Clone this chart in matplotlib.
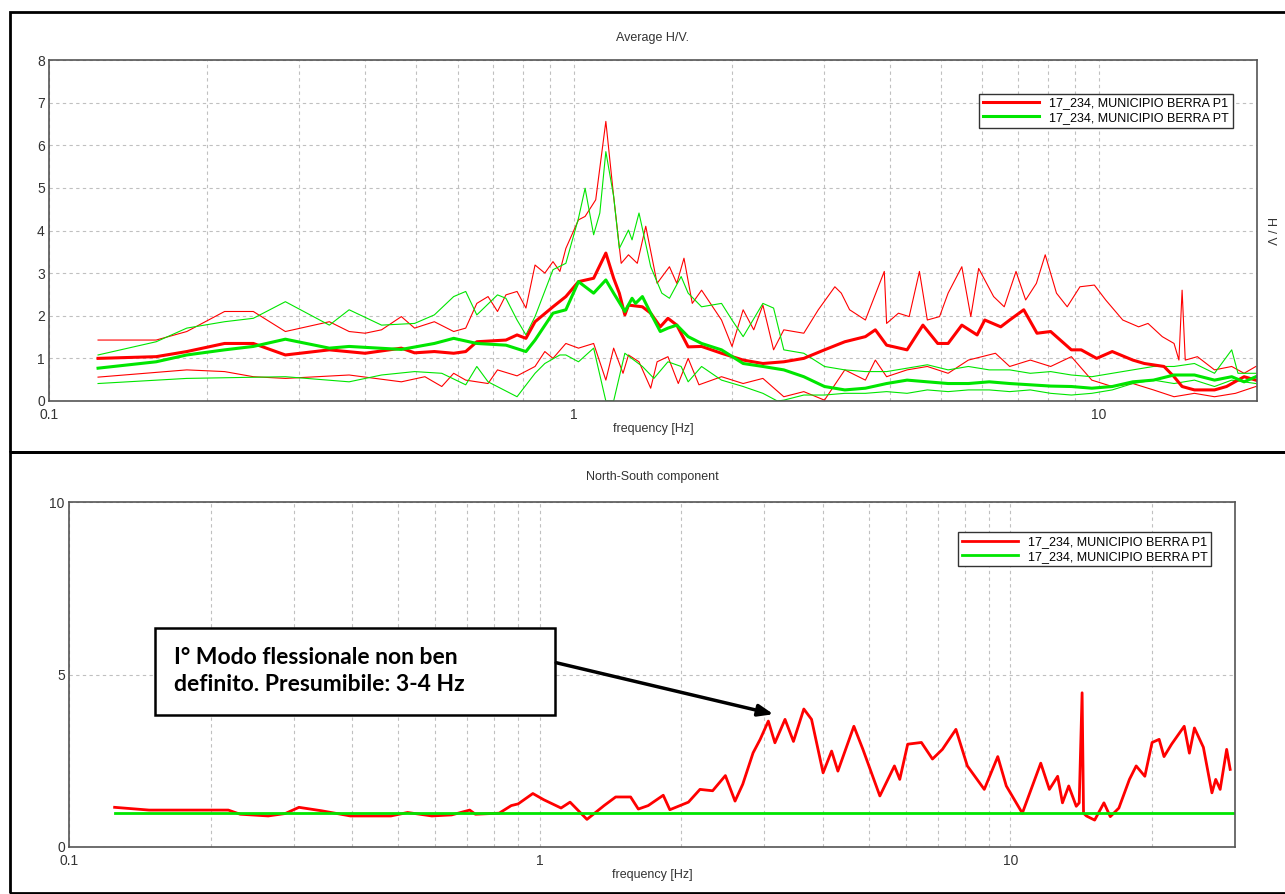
import matplotlib.pyplot as plt
import matplotlib.patches as mpatches
from matplotlib.ticker import FixedLocator, LogLocator, NullFormatter
import numpy as np

RED = '#ff0000'
GREEN = '#00e600'
LEG = ['17_234, MUNICIPIO BERRA P1', '17_234, MUNICIPIO BERRA PT']

# ---- top panel: average H/V (mean and +/- std curves) ----
red_mean_f = [0.124, 0.160, 0.183, 0.216, 0.245, 0.282, 0.342, 0.40, 0.469, 0.497, 0.542, 0.59, 0.622, 0.653,
              0.742, 0.779, 0.81, 0.843, 0.912, 0.965, 1.02, 1.09, 1.15, 1.19, 1.22, 1.25, 1.27, 1.35, 1.40, 1.46,
              1.51, 1.57, 1.65, 1.75, 1.91, 2.10, 2.29, 2.51, 2.74, 3.0, 3.28, 3.59, 3.75, 3.94, 4.31, 4.62,
              4.93, 5.16, 5.48, 5.86, 6.06, 6.5, 6.76, 7.19, 7.62, 8.09, 8.86, 9.25, 9.9, 10.6, 11.6, 12.2, 13.3,
              13.9, 14.4, 15.2, 16.6, 17.5, 18.9, 19.9]
red_mean_v = [1.0, 1.04, 1.16, 1.35, 1.35, 1.08, 1.2, 1.12, 1.24, 1.13, 1.16, 1.12, 1.16, 1.39,
              1.43, 1.55, 1.47, 1.86, 2.21, 2.45, 2.8, 2.88, 3.47, 2.88, 2.53, 2.02, 2.25, 2.21, 2.06, 1.74,
              1.94, 1.78, 1.27, 1.28, 1.12, 0.96, 0.88, 0.92, 1.0, 1.2, 1.39, 1.51, 1.67, 1.31, 1.2, 1.78,
              1.35, 1.35, 1.78, 1.55, 1.9, 1.74, 1.9, 2.14, 1.59, 1.63, 1.2, 1.2, 1.0, 1.16, 0.96, 0.88, 0.81,
              0.57, 0.34, 0.26, 0.26, 0.34, 0.57, 0.49]

green_mean_f = [0.124, 0.160, 0.183, 0.216, 0.245, 0.282, 0.342, 0.373, 0.469, 0.542, 0.59, 0.653, 0.742, 0.81,
                0.843, 0.912, 0.965, 1.02, 1.09, 1.15, 1.19, 1.25, 1.29, 1.31, 1.35, 1.40, 1.46, 1.51, 1.57, 1.65,
                1.75, 1.91, 2.10, 2.29, 2.51, 2.74, 3.0, 3.28, 3.59, 3.94, 4.31, 4.71, 5.16, 5.64, 6.18, 6.76, 7.40,
                8.09, 8.86, 9.69, 10.6, 11.6, 12.7, 13.9, 15.2, 16.6, 17.9, 18.9, 19.9]
green_mean_v = [0.77, 0.92, 1.08, 1.2, 1.28, 1.45, 1.24, 1.28, 1.21, 1.35, 1.47, 1.35, 1.31, 1.16,
                1.43, 2.06, 2.14, 2.8, 2.53, 2.84, 2.53, 2.1, 2.41, 2.29, 2.45, 2.06, 1.63, 1.71, 1.78, 1.51,
                1.35, 1.2, 0.88, 0.81, 0.73, 0.57, 0.34, 0.26, 0.3, 0.41, 0.49, 0.45, 0.41, 0.41, 0.45, 0.41, 0.38,
                0.35, 0.34, 0.3, 0.34, 0.45, 0.49, 0.61, 0.61, 0.49, 0.57, 0.45, 0.57]

red_up_f = [0.124, 0.160, 0.183, 0.216, 0.245, 0.282, 0.342, 0.373, 0.40, 0.43, 0.469, 0.497, 0.542, 0.59, 0.622,
            0.653, 0.686, 0.715, 0.742, 0.779, 0.81, 0.843, 0.88, 0.912, 0.94, 0.965, 1.02, 1.05, 1.10, 1.15,
            1.19, 1.23, 1.27, 1.32, 1.37, 1.44, 1.52, 1.57, 1.62, 1.68, 1.75, 1.91, 2.0, 2.10, 2.2, 2.29, 2.4,
            2.51, 2.74, 2.92, 3.14, 3.23, 3.35, 3.59, 3.9, 3.94, 4.15, 4.35, 4.55, 4.71, 4.97, 5.16, 5.48, 5.7,
            5.9, 6.3, 6.6, 6.95, 7.25, 7.6, 7.9, 8.3, 8.7, 9.2, 9.8, 10.3,
            11.1, 11.9, 12.4, 13.2, 13.9, 14.2, 14.4, 14.6, 15.4, 16.6, 17.9, 18.9, 19.9]
red_up_v = [1.43, 1.43, 1.63, 2.1, 2.1, 1.63, 1.86, 1.63, 1.59, 1.67, 1.98, 1.71, 1.86, 1.63, 1.71,
            2.29, 2.45, 2.1, 2.49, 2.57, 2.18, 3.19, 3.0, 3.27, 3.04, 3.58, 4.25, 4.33, 4.72, 6.56,
            4.8, 3.23, 3.43, 3.23, 4.1, 2.76, 3.15, 2.76, 3.35, 2.29, 2.6, 1.9, 1.28, 2.14, 1.67, 2.25, 1.2,
            1.67, 1.59, 2.14, 2.68, 2.53, 2.14, 1.9, 3.04, 1.82, 2.06, 1.98, 3.04, 1.9, 1.98, 2.53, 3.15, 1.98,
            3.11, 2.45, 2.21, 3.04, 2.37, 2.76, 3.43, 2.53, 2.21, 2.68, 2.72, 2.37,
            1.9, 1.74, 1.82, 1.51, 1.35, 0.96, 2.6, 0.96, 1.04, 0.73, 0.81, 0.65, 0.81]

green_up_f = [0.124, 0.160, 0.183, 0.216, 0.245, 0.282, 0.342, 0.373, 0.43, 0.497, 0.542, 0.59, 0.622, 0.653,
              0.715, 0.742, 0.779, 0.81, 0.843, 0.912, 0.965, 1.02, 1.05, 1.09, 1.12, 1.15, 1.19, 1.22, 1.27,
              1.29, 1.33, 1.40, 1.47, 1.52, 1.60, 1.65, 1.75, 1.91, 2.0, 2.10, 2.29, 2.4, 2.51, 2.74, 3.0, 3.28,
              3.59, 3.94, 4.31, 4.71, 5.16, 5.64, 6.18, 6.76, 7.40, 8.09, 8.86, 9.69, 10.6, 11.6, 12.7, 13.9,
              15.2, 16.6, 17.9, 18.4, 19.9]
green_up_v = [1.08, 1.39, 1.71, 1.86, 1.94, 2.33, 1.78, 2.14, 1.78, 1.82, 2.02, 2.45, 2.57, 2.02,
              2.49, 2.41, 1.9, 1.55, 1.98, 3.08, 3.23, 4.29, 4.99, 3.9, 4.41, 5.85, 4.8, 3.58, 4.01,
              3.78, 4.41, 3.15, 2.53, 2.41, 2.92, 2.53, 2.21, 2.29, 1.9, 1.51, 2.29, 2.18, 1.2, 1.12, 0.81, 0.73,
              0.69, 0.69, 0.77, 0.85, 0.73, 0.81, 0.73, 0.73, 0.65, 0.69, 0.61, 0.57, 0.65, 0.73, 0.81, 0.81,
              0.88, 0.65, 1.2, 0.65, 0.65]

red_lo_f = [0.124, 0.183, 0.216, 0.245, 0.282, 0.373, 0.469, 0.52, 0.56, 0.59, 0.622, 0.686, 0.715, 0.779,
            0.843, 0.88, 0.912, 0.965, 1.02, 1.09, 1.15, 1.19, 1.24, 1.27, 1.33, 1.40, 1.44, 1.51, 1.58, 1.65,
            1.73, 1.91, 2.10, 2.29, 2.51, 2.74, 3.0, 3.28, 3.59, 3.75, 3.94, 4.31, 4.71, 5.16, 5.64, 6.35,
            6.76, 7.40, 8.09, 8.86, 9.69, 10.6, 11.6, 12.7, 13.9, 15.2, 16.6, 18.2, 19.9]
red_lo_v = [0.56, 0.73, 0.69, 0.57, 0.53, 0.61, 0.45, 0.57, 0.34, 0.65, 0.49, 0.41, 0.73, 0.59,
            0.81, 1.16, 1.0, 1.35, 1.24, 1.35, 0.49, 1.24, 0.65, 1.08, 0.92, 0.3, 0.92, 1.04, 0.41, 1.0,
            0.38, 0.57, 0.41, 0.53, 0.1, 0.22, 0.02, 0.73, 0.49, 0.96, 0.57, 0.73, 0.81, 0.65, 0.96, 1.12,
            0.81, 0.96, 0.81, 1.04, 0.49, 0.34, 0.41, 0.26, 0.1, 0.18, 0.1, 0.18, 0.34]

green_lo_f = [0.124, 0.183, 0.282, 0.373, 0.43, 0.497, 0.56, 0.622, 0.653, 0.686, 0.779, 0.843, 0.88, 0.94,
              0.965, 1.02, 1.09, 1.15, 1.19, 1.25, 1.35, 1.42, 1.51, 1.60, 1.65, 1.75, 1.91, 2.10, 2.29,
              2.44, 2.51, 2.74, 3.0, 3.28, 3.59, 3.94, 4.31, 4.71, 5.16, 5.64, 6.18, 6.76, 7.40, 8.09, 8.86,
              9.69, 10.6, 11.6, 12.7, 13.9, 15.2, 16.6, 17.9, 19.9]
green_lo_v = [0.41, 0.53, 0.57, 0.45, 0.61, 0.69, 0.65, 0.38, 0.81, 0.45, 0.1, 0.65, 0.88, 1.08,
              1.08, 0.92, 1.24, 0.0, 0.0, 1.12, 0.81, 0.53, 0.92, 0.81, 0.45, 0.81, 0.49, 0.34, 0.18,
              0.0, 0.02, 0.14, 0.14, 0.18, 0.18, 0.22, 0.18, 0.26, 0.22, 0.26, 0.26, 0.22, 0.26, 0.18, 0.14,
              0.18, 0.26, 0.41, 0.49, 0.41, 0.49, 0.34, 0.49, 0.41]

# ---- bottom panel: North-South component ----
ns_red_f = [0.125, 0.148, 0.19, 0.218, 0.231, 0.265, 0.288, 0.308, 0.344, 0.396, 0.483, 0.524, 0.59, 0.65,
            0.71, 0.73, 0.82, 0.87, 0.90, 0.967, 1.02, 1.11, 1.16, 1.26, 1.37, 1.45, 1.56, 1.62, 1.70, 1.83,
            1.89, 2.07, 2.19, 2.33, 2.48, 2.60, 2.70, 2.84, 2.94, 3.06, 3.16, 3.32, 3.46, 3.64, 3.78, 4.0,
            4.17, 4.3, 4.65, 4.86, 5.28, 5.67, 5.82, 6.05, 6.47, 6.83, 7.17, 7.66, 8.1, 8.8, 9.4, 9.8, 10.6,
            11.6, 12.1, 12.6, 12.9, 13.3, 13.8, 14.0, 14.2, 14.3, 14.5, 15.1, 15.8, 16.3, 17.0, 17.9, 18.5,
            19.3, 20.0, 20.7, 21.2, 22.0, 23.4, 24.0, 24.6, 25.7, 26.8, 27.3, 27.9, 28.8, 29.3]
ns_red_v = [1.15, 1.07, 1.07, 1.07, 0.95, 0.9, 0.97, 1.15, 1.05, 0.9, 0.9, 1.0, 0.9, 0.93,
            1.07, 0.95, 0.98, 1.2, 1.25, 1.55, 1.37, 1.13, 1.3, 0.8, 1.2, 1.45, 1.45, 1.1, 1.2, 1.5,
            1.08, 1.3, 1.67, 1.63, 2.07, 1.33, 1.82, 2.73, 3.12, 3.65, 3.02, 3.7, 3.06, 4.0, 3.7, 2.15,
            2.78, 2.2, 3.5, 2.83, 1.48, 2.35, 1.96, 2.98, 3.03, 2.55, 2.83, 3.41, 2.35, 1.67, 2.62, 1.77, 0.98,
            2.43, 1.67, 2.05, 1.28, 1.77, 1.18, 1.28, 4.47, 0.98, 0.9, 0.78, 1.28, 0.88, 1.13, 1.96, 2.35,
            2.05, 3.03, 3.12, 2.62, 2.98, 3.5, 2.72, 3.45, 2.89, 1.57, 1.96, 1.67, 2.83, 2.25]
ns_green_f = [0.125, 29.9]
ns_green_v = [1.0, 1.0]

W, H = 1285, 894
fig = plt.figure(figsize=(W / 100, H / 100), dpi=100)
plt.rcParams['font.family'] = ['Liberation Sans', 'DejaVu Sans']


def px(x0, y0, x1, y1):
    return [x0 / W, 1 - y1 / H, (x1 - x0) / W, (y1 - y0) / H]


# panel frames
for y0, y1 in [(12, 452), (452, 893)]:
    fig.add_artist(mpatches.Rectangle((10 / W, 1 - y1 / H), 1.2, (y1 - y0) / H, transform=fig.transFigure,
                                      fill=False, ec='black', lw=2))


def style(ax, xmax, ymax, yticks):
    ax.set_xscale('log')
    ax.set_xlim(0.1, xmax)
    ax.set_ylim(0, ymax)
    ax.xaxis.set_major_locator(FixedLocator([0.1, 1, 10]))
    ax.xaxis.set_minor_locator(LogLocator(base=10, subs=np.arange(2, 10)))
    ax.xaxis.set_minor_formatter(NullFormatter())
    ax.set_xticklabels(['0.1', '1', '10'])
    ax.set_yticks(yticks)
    ax.grid(True, which='both', axis='x', ls=(0, (3, 3)), color='#c0c0c0', lw=0.8)
    ax.grid(True, which='major', axis='y', ls=(0, (3, 3)), color='#c0c0c0', lw=0.8)
    ax.tick_params(which='both', length=0, labelsize=10, colors='#333333')
    ax.tick_params(axis='x', pad=5)
    ax.tick_params(axis='y', pad=3)
    for s in ax.spines.values():
        s.set_color('#555555')
        s.set_linewidth(1.2)
    ax.set_xlabel('frequency [Hz]', fontsize=9, color='#333333', labelpad=1)


ax1 = fig.add_axes(px(49, 60, 1257, 401))
style(ax1, 20, 8, range(0, 9))
ax1.plot(red_up_f, red_up_v, color=RED, lw=0.8)
ax1.plot(red_lo_f, red_lo_v, color=RED, lw=0.8)
ax1.plot(green_up_f, green_up_v, color=GREEN, lw=0.8)
ax1.plot(green_lo_f, green_lo_v, color=GREEN, lw=0.8)
l1, = ax1.plot(red_mean_f, red_mean_v, color=RED, lw=2.2)
l2, = ax1.plot(green_mean_f, green_mean_v, color=GREEN, lw=2.2)
ax1.set_title('Average H/V.', fontsize=9, color='#333333', pad=14)
ax1.yaxis.set_label_position('right')
ax1.set_ylabel('H / V', rotation=-90, fontsize=9, color='#333333', labelpad=14)
ax1.legend([l1, l2], LEG, loc='upper right', bbox_to_anchor=(0.985, 0.92), fontsize=9, frameon=True,
           fancybox=False, edgecolor='#333333', handlelength=4.5, borderpad=0.3, labelspacing=0.2,
           framealpha=1)

ax2 = fig.add_axes(px(69, 502, 1235, 847))
style(ax2, 30, 10, [0, 5, 10])
r, = ax2.plot(ns_red_f, ns_red_v, color=RED, lw=2)
g, = ax2.plot(ns_green_f, ns_green_v, color=GREEN, lw=2)
ax2.set_title('North-South component', fontsize=9, color='#333333', pad=16)
ax2.legend([r, g], LEG, loc='upper right', bbox_to_anchor=(0.985, 0.93), fontsize=9, frameon=True,
           fancybox=False, edgecolor='#333333', handlelength=4.5, borderpad=0.3, labelspacing=0.2,
           framealpha=1)

ax2.add_patch(mpatches.Rectangle((0.0737, 0.383), 0.343, 0.252, transform=ax2.transAxes,
                                 fc='white', ec='black', lw=1.8, zorder=5))
ax2.text(0.09, 0.51, 'I° Modo flessionale non ben\ndefinito. Presumibile: 3-4 Hz', transform=ax2.transAxes,
         fontsize=16.5, fontweight='bold', family=['Lato', 'DejaVu Sans'], va='center', ha='left',
         linespacing=1.35, zorder=6)
ax2.annotate('', xy=(3.18, 3.83), xytext=(1.07, 5.36),
             arrowprops=dict(arrowstyle='-|>,head_length=0.9,head_width=0.35', color='black', lw=2.5),
             zorder=6)

fig.savefig('out.png', dpi=100)
